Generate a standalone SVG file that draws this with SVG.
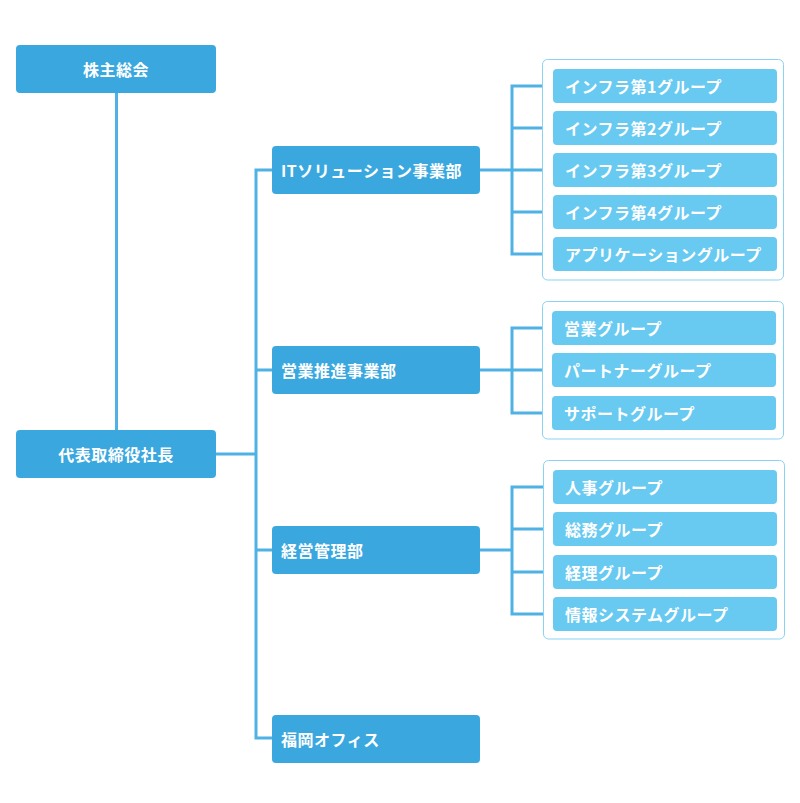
<svg xmlns="http://www.w3.org/2000/svg" width="800" height="803" viewBox="0 0 800 803">
<style>
.main{fill:#3AA8DE}
.sub{fill:#68C9F1}
.box{fill:#FFFFFF;stroke:#8AD3F2;stroke-width:1}
.ln{fill:none;stroke:#4FB1E4;stroke-width:3}
text{font-family:"Noto Sans CJK JP","Noto Sans",sans-serif;font-size:16px;font-weight:700;fill:#FFFFFF;dominant-baseline:central;letter-spacing:0.5px}
.c{text-anchor:middle}
</style>
<rect width="800" height="803" fill="#FFFFFF"/>
<g id="connectors">
<line class="ln" x1="116.5" y1="93" x2="116.5" y2="430"/>
<line class="ln" x1="216" y1="454" x2="256" y2="454"/>
<polyline class="ln" points="272,170 256,170 256,738 272,738"/>
<line class="ln" x1="256" y1="370" x2="272" y2="370"/>
<line class="ln" x1="256" y1="550" x2="272" y2="550"/>
<line class="ln" x1="480" y1="170" x2="512" y2="170"/>
<polyline class="ln" points="553,86 512,86 512,254 553,254"/>
<line class="ln" x1="512" y1="128" x2="553" y2="128"/>
<line class="ln" x1="512" y1="212" x2="553" y2="212"/>
<line class="ln" x1="512" y1="170" x2="553" y2="170"/>
<line class="ln" x1="480" y1="370" x2="512" y2="370"/>
<polyline class="ln" points="553,328 512,328 512,413 553,413"/>
<line class="ln" x1="512" y1="370" x2="553" y2="370"/>
<line class="ln" x1="480" y1="550" x2="512" y2="550"/>
<polyline class="ln" points="553,487 512,487 512,614 553,614"/>
<line class="ln" x1="512" y1="529" x2="553" y2="529"/>
<line class="ln" x1="512" y1="572" x2="553" y2="572"/>
</g>
<g id="n-kabunushi"><rect class="main" x="16" y="45" width="200" height="48" rx="4"/><text class="c" x="116" y="69">株主総会</text></g>
<g id="n-president"><rect class="main" x="16" y="430" width="200" height="48" rx="4"/><text class="c" x="116" y="454">代表取締役社長</text></g>
<g id="n-it"><rect class="main" x="272" y="146" width="208" height="48" rx="4"/><text x="281" y="170">ITソリューション事業部</text></g>
<g id="n-sales"><rect class="main" x="272" y="346" width="208" height="48" rx="4"/><text x="281" y="370">営業推進事業部</text></g>
<g id="n-admin"><rect class="main" x="272" y="526" width="208" height="48" rx="4"/><text x="281" y="550">経営管理部</text></g>
<g id="n-fukuoka"><rect class="main" x="272" y="715" width="208" height="48" rx="4"/><text x="281" y="739">福岡オフィス</text></g>
<g id="box-it"><rect class="box" x="542.5" y="59.5" width="241" height="220.5" rx="5"/></g>
<g id="box-sales"><rect class="box" x="542.5" y="301.5" width="241" height="137.5" rx="5"/></g>
<g id="box-admin"><rect class="box" x="543.5" y="460.5" width="241" height="178.5" rx="5"/></g>
<g id="g-infra1"><rect class="sub" x="553" y="69" width="224" height="34" rx="4"/><text x="565" y="86">インフラ第1グループ</text></g>
<g id="g-infra2"><rect class="sub" x="553" y="111" width="224" height="34" rx="4"/><text x="565" y="128">インフラ第2グループ</text></g>
<g id="g-infra3"><rect class="sub" x="553" y="153" width="224" height="34" rx="4"/><text x="565" y="170">インフラ第3グループ</text></g>
<g id="g-infra4"><rect class="sub" x="553" y="195" width="224" height="34" rx="4"/><text x="565" y="212">インフラ第4グループ</text></g>
<g id="g-app"><rect class="sub" x="553" y="237" width="224" height="34" rx="4"/><text x="565" y="254">アプリケーショングループ</text></g>
<g id="g-eigyo"><rect class="sub" x="552" y="311" width="224" height="34" rx="4"/><text x="564" y="328">営業グループ</text></g>
<g id="g-partner"><rect class="sub" x="552" y="353" width="224" height="34" rx="4"/><text x="564" y="370">パートナーグループ</text></g>
<g id="g-support"><rect class="sub" x="552" y="396" width="224" height="34" rx="4"/><text x="564" y="413">サポートグループ</text></g>
<g id="g-jinji"><rect class="sub" x="553" y="470" width="224" height="34" rx="4"/><text x="565" y="487">人事グループ</text></g>
<g id="g-somu"><rect class="sub" x="553" y="512" width="224" height="34" rx="4"/><text x="565" y="529">総務グループ</text></g>
<g id="g-keiri"><rect class="sub" x="553" y="555" width="224" height="34" rx="4"/><text x="565" y="572">経理グループ</text></g>
<g id="g-joho"><rect class="sub" x="553" y="597" width="224" height="34" rx="4"/><text x="565" y="614">情報システムグループ</text></g>
</svg>
